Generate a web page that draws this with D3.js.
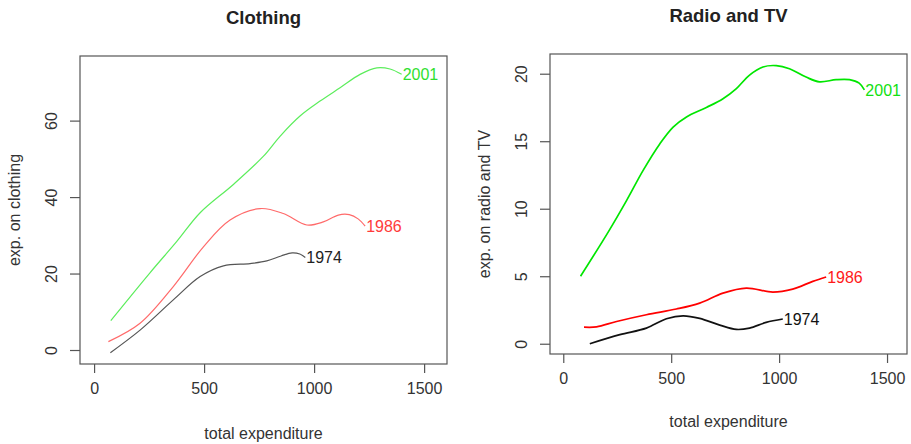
<!DOCTYPE html>
<html>
<head>
<meta charset="utf-8">
<script src="https://cdn.jsdelivr.net/npm/d3@7"></script>
<style>
  body { margin: 0; background: #fff; }
  svg text { font-family: "Liberation Sans", Arial, sans-serif; }
</style>
</head>
<body>
<svg id="chart" width="911" height="444"></svg>
<script>
// ---- data ----
const years = ["1974", "1986", "2001"];
const xTicks = [0, 500, 1000, 1500];

// Clothing panel
const clothingTitle = "Clothing";
const clothingYLabel = "exp. on clothing";
const clothingYTicks = [0, 20, 40, 60];
const clothing1974 = [[74,-0.7],[209,5.2],[360,13.1],[482,19.2],[588,22.0],[709,22.6],[785,23.3],[850,24.6],[900,25.4],[935,25.1],[960,24.2]];
const clothing1986 = [[65,2.2],[209,7.0],[360,16.6],[497,27.0],[618,34.0],[755,37.0],[860,35.7],[967,32.7],[1042,33.5],[1110,35.3],[1160,35.4],[1200,34.3],[1232,32.4]];
const clothing2001 = [[76,7.7],[254,20.2],[376,28.4],[482,35.9],[633,43.3],[770,50.7],[845,55.9],[936,61.2],[1027,65.1],[1118,68.6],[1209,72.1],[1285,73.8],[1345,73.5],[1398,72.1]];

// Radio and TV panel
const radioTitle = "Radio and TV";
const radioYLabel = "exp. on radio and TV";
const radioYTicks = [0, 5, 10, 15, 20];
const radio1974 = [[123,0.0],[262,0.67],[385,1.16],[478,1.85],[555,2.07],[632,1.88],[725,1.38],[802,1.06],[863,1.16],[940,1.58],[1017,1.83]];
const radio1986 = [[96,1.23],[154,1.25],[247,1.65],[385,2.15],[524,2.57],[632,3.01],[740,3.75],[848,4.12],[971,3.83],[1063,4.05],[1156,4.62],[1218,4.94]];
const radio2001 = [[80,5.0],[208,8.27],[293,10.6],[370,12.84],[447,14.8],[509,16.05],[571,16.8],[663,17.5],[740,18.15],[802,18.9],[863,19.9],[925,20.5],[987,20.6],[1048,20.37],[1125,19.75],[1187,19.4],[1264,19.56],[1326,19.56],[1371,19.3],[1395,18.8]];

const svg = d3.select("#chart");

function drawPanel(cfg) {
  const g = svg.append("g");

  const x = d3.scaleLinear().domain(cfg.xDomain).range([cfg.left, cfg.right]);
  const y = d3.scaleLinear().domain(cfg.yDomain).range([cfg.bottom, cfg.top]);

  // box
  g.append("rect")
    .attr("x", cfg.left).attr("y", cfg.top)
    .attr("width", cfg.right - cfg.left).attr("height", cfg.bottom - cfg.top)
    .attr("fill", "none").attr("stroke", "#555").attr("stroke-width", 1.2);

  // x axis
  const xAxis = d3.axisBottom(x).tickValues(xTicks).tickSize(9).tickPadding(10).tickFormat(d3.format("d"));
  const xg = g.append("g").attr("transform", `translate(0,${cfg.bottom})`).call(xAxis);
  xg.select(".domain").remove();
  xg.selectAll(".tick line").attr("stroke", "#555").attr("stroke-width", 1.2);
  xg.selectAll(".tick text").attr("font-size", 16).attr("fill", "#333")
    .attr("font-family", "Liberation Sans, Arial, sans-serif");

  // y axis (R style: labels parallel to the axis)
  const yAxis = d3.axisLeft(y).tickValues(cfg.yTicks).tickSize(10).tickFormat(d3.format("d"));
  const yg = g.append("g").attr("transform", `translate(${cfg.left},0)`).call(yAxis);
  yg.select(".domain").remove();
  yg.selectAll(".tick line").attr("stroke", "#555").attr("stroke-width", 1.2);
  yg.selectAll(".tick text")
    .attr("font-size", 16).attr("fill", "#333")
    .attr("font-family", "Liberation Sans, Arial, sans-serif")
    .attr("x", null).attr("dy", null)
    .attr("text-anchor", "middle")
    .attr("transform", "translate(-23,0) rotate(-90)");

  // titles
  const cx = (cfg.left + cfg.right) / 2;
  g.append("text").attr("x", cx).attr("y", cfg.titleY)
    .attr("text-anchor", "middle").attr("font-size", 18.5).attr("font-weight", "bold")
    .attr("fill", "#222").text(cfg.title);
  g.append("text").attr("x", cx).attr("y", cfg.bottom + cfg.xLabelOffset)
    .attr("text-anchor", "middle").attr("font-size", 16).attr("fill", "#333")
    .text("total expenditure");
  g.append("text")
    .attr("transform", `translate(${cfg.left - 60},${(cfg.top + cfg.bottom) / 2}) rotate(-90)`)
    .attr("text-anchor", "middle").attr("font-size", 16).attr("fill", "#333")
    .text(cfg.yLabel);

  // curves
  const line = d3.line()
    .x(d => x(d[0]))
    .y(d => y(d[1]))
    .curve(d3.curveCatmullRom.alpha(0.5));

  cfg.series.forEach((s, i) => {
    g.append("path")
      .datum(s)
      .attr("fill", "none")
      .attr("stroke", cfg.lineColors[i])
      .attr("stroke-width", cfg.lineWidth)
      .attr("d", line);
    const last = s[s.length - 1];
    g.append("text")
      .attr("x", x(last[0]) + 1)
      .attr("y", y(last[1]))
      .attr("dy", "0.35em")
      .attr("font-size", 16)
      .attr("fill", cfg.labelColors[i])
      .text(years[i]);
  });
}

drawPanel({
  left: 80, right: 447, top: 56, bottom: 364,
  xDomain: [-64, 1604], yDomain: [-3.66, 76.9],
  yTicks: clothingYTicks,
  title: clothingTitle, yLabel: clothingYLabel,
  titleY: 24, xLabelOffset: 75,
  series: [clothing1974, clothing1986, clothing2001],
  lineColors: ["#555", "#ff6a6a", "#5ced5c"],
  labelColors: ["#222", "#ff3b3b", "#2fe02f"],
  lineWidth: 1.2
});

drawPanel({
  left: 550, right: 907, top: 54, bottom: 354,
  xDomain: [-61.5, 1592.5], yDomain: [-0.76, 21.46],
  yTicks: radioYTicks,
  title: radioTitle, yLabel: radioYLabel,
  titleY: 22, xLabelOffset: 73,
  series: [radio1974, radio1986, radio2001],
  lineColors: ["#111", "#ff0000", "#00e600"],
  labelColors: ["#111", "#ff1a1a", "#11e011"],
  lineWidth: 1.7
});
</script>
</body>
</html>
